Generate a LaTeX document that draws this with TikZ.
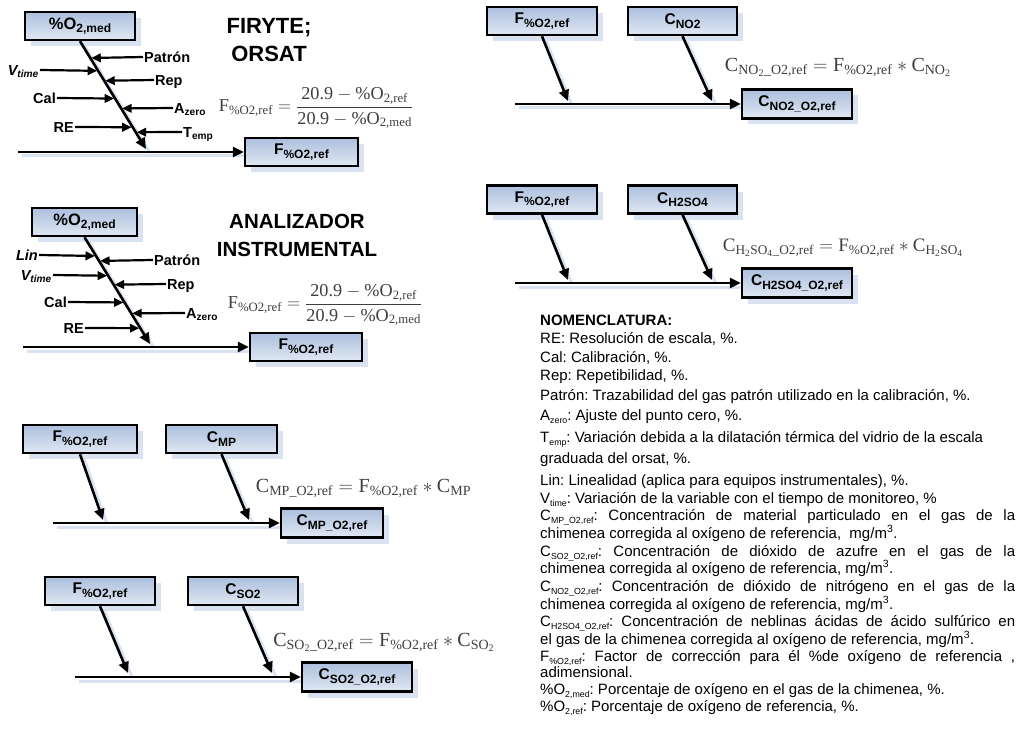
\documentclass[tikz,border=0pt]{standalone}
\usepackage{fix-cm}
\usepackage{amsmath}
\usepackage[no-math]{fontspec}
\setmainfont{Liberation Sans}
\newfontfamily\eqfont{Liberation Serif}
\usetikzlibrary{arrows.meta,calc,shadows}
\definecolor{boxA}{RGB}{172,191,221}
\definecolor{boxB}{RGB}{224,232,243}
\definecolor{shd}{RGB}{216,226,240}
\definecolor{eqc}{RGB}{62,62,62}
\frenchspacing
\newcommand\mylo[1]{\textsubscript{#1}}
\newcommand\subx[2]{\raisebox{-0.22em}{\fontsize{#1}{#1}\selectfont #2}}
\newcommand\bsub[1]{\subx{12}{#1}}
\newcommand\nsub[1]{\subx{8.8}{#1}}
\newcommand\ee[1]{\text{\eqfont #1}}
\pgfdeclarelayer{bg}
\pgfsetlayers{bg,main}
\tikzset{
  bx/.style={draw=black, line width=2.4pt, top color=boxA, bottom color=boxB, minimum height=28pt, inner sep=0pt,
    font=\bfseries\fontsize{15.5}{18}\selectfont,
    drop shadow={shadow xshift=6pt, shadow yshift=-6pt, fill=shd, draw=none, opacity=1}},
  lab/.style={font=\bfseries\fontsize{14.5}{17}\selectfont, inner sep=1pt, text height=10.5pt, text depth=0pt},
  arr/.style={line width=2.6pt, -{Triangle[length=11pt,width=10pt]}},
  sarr/.style={line width=2.2pt, -{Triangle[length=9.5pt,width=8.5pt]}, shorten >=1pt},
  lsh/.style={line width=3pt, draw=shd, transform canvas={shift={(4pt,-4pt)}}},
  eq/.style={text=eqc, inner sep=0pt, font=\fontsize{20}{22}\selectfont},
  eqf/.style={text=eqc, inner sep=0pt, font=\fontsize{18.2}{22}\selectfont},
  nom/.style={anchor=base west, inner sep=0pt, font=\fontsize{15}{18}\selectfont},
  ttl/.style={align=center, font=\bfseries\fontsize{20.5}{28}\selectfont, inner sep=0pt}
}
\begin{document}
\begin{tikzpicture}[x=1pt,y=-1pt]
\useasboundingbox (0,0) rectangle (1019,730);

% ---------- Fishbone 1 ----------
\node[bx, minimum width=110pt, font=\bfseries\fontsize{16.5}{18}\selectfont] (m1) at (80,26) {\%O\bsub{2,med}};
\node[bx, minimum width=113pt] (f1) at (301.5,152) {F\bsub{\%O2,ref}};
\coordinate (h1) at (18,152);
\coordinate (d1) at (146,149);
\begin{pgfonlayer}{bg}
\draw[lsh] (h1) -- (f1.west);
\draw[lsh] (m1.south) -- (d1);
\end{pgfonlayer}
\draw[arr] (h1) -- (f1.west);
\draw[arr] (m1.south) -- (d1);
\node[ttl, font=\bfseries\fontsize{22}{28}\selectfont] (t1) at (269,40) {FIRYTE;\\ORSAT};
\node[lab,anchor=east] (vt1) at (40,70) {\textit{V\mylo{time}}};
\node[lab,anchor=east] (ca1) at (57,98) {Cal};
\node[lab,anchor=east] (re1) at (75,127) {RE};
\node[lab,anchor=west] (pa1) at (143,57) {Patrón};
\node[lab,anchor=west] (rp1) at (154,80) {Rep};
\node[lab,anchor=west] (az1) at (173,108) {A\mylo{zero}};
\node[lab,anchor=west] (te1) at (182,132) {T\mylo{emp}};
\coordinate (qv1) at ($(m1.south)!{(70-40)/109}!(d1)$);
\coordinate (qc1) at ($(m1.south)!{(98-40)/109}!(d1)$);
\coordinate (qr1) at ($(m1.south)!{(127-40)/109}!(d1)$);
\coordinate (qp1) at ($(m1.south)!{(57-40)/109}!(d1)$);
\coordinate (qe1) at ($(m1.south)!{(80-40)/109}!(d1)$);
\coordinate (qa1) at ($(m1.south)!{(108-40)/109}!(d1)$);
\coordinate (qt1) at ($(m1.south)!{(132-40)/109}!(d1)$);
\draw[sarr] (vt1.east) -- (qv1);
\draw[sarr] (ca1.east) -- (qc1);
\draw[sarr] (re1.east) -- (qr1);
\draw[sarr] (pa1.west) -- (qp1);
\draw[sarr] (rp1.west) -- (qe1);
\draw[sarr] (az1.west) -- (qa1);
\draw[sarr] (te1.west) -- (qt1);
\node[eqf] (eq1) at (316,108) {$\ee{F}_{\ee{\%O2,ref}}=\dfrac{\ee{20.9}-\ee{\%O}_{\ee{2,ref}}}{\ee{20.9}-\ee{\%O}_{\ee{2,med}}}$};

% ---------- Fishbone 2 ----------
\node[bx, minimum width=105pt, font=\bfseries\fontsize{16.5}{18}\selectfont] (m2) at (84.5,222) {\%O\bsub{2,med}};
\node[bx, minimum width=112pt] (f2) at (306,347) {F\bsub{\%O2,ref}};
\coordinate (h2) at (23,347);
\coordinate (d2) at (150,344);
\begin{pgfonlayer}{bg}
\draw[lsh] (h2) -- (f2.west);
\draw[lsh] (m2.south) -- (d2);
\end{pgfonlayer}
\draw[arr] (h2) -- (f2.west);
\draw[arr] (m2.south) -- (d2);
\node[ttl] (t2) at (297,235) {ANALIZADOR\\INSTRUMENTAL};
\node[lab,anchor=east] (li2) at (39,255) {\textit{Lin}};
\node[lab,anchor=east] (vt2) at (53,275) {\textit{V\mylo{time}}};
\node[lab,anchor=east] (ca2) at (68,302) {Cal};
\node[lab,anchor=east] (re2) at (85,328) {RE};
\node[lab,anchor=west] (pa2) at (153,260) {Patrón};
\node[lab,anchor=west] (rp2) at (166,284) {Rep};
\node[lab,anchor=west] (az2) at (185,313) {A\mylo{zero}};
\coordinate (ql2) at ($(m2.south)!{(255-236)/108}!(d2)$);
\coordinate (qv2) at ($(m2.south)!{(275-236)/108}!(d2)$);
\coordinate (qc2) at ($(m2.south)!{(302-236)/108}!(d2)$);
\coordinate (qr2) at ($(m2.south)!{(328-236)/108}!(d2)$);
\coordinate (qp2) at ($(m2.south)!{(260-236)/108}!(d2)$);
\coordinate (qe2) at ($(m2.south)!{(284-236)/108}!(d2)$);
\coordinate (qa2) at ($(m2.south)!{(313-236)/108}!(d2)$);
\draw[sarr] (li2.east) -- (ql2);
\draw[sarr] (vt2.east) -- (qv2);
\draw[sarr] (ca2.east) -- (qc2);
\draw[sarr] (re2.east) -- (qr2);
\draw[sarr] (pa2.west) -- (qp2);
\draw[sarr] (rp2.west) -- (qe2);
\draw[sarr] (az2.west) -- (qa2);
\node[eqf] (eq2) at (325,305) {$\ee{F}_{\ee{\%O2,ref}}=\dfrac{\ee{20.9}-\ee{\%O}_{\ee{2,ref}}}{\ee{20.9}-\ee{\%O}_{\ee{2,med}}}$};

% ---------- Group 3 (MP) ----------
\node[bx, minimum width=114pt] (F3) at (80,439) {F\bsub{\%O2,ref}};
\node[bx, minimum width=111pt] (C3) at (221.5,439) {C\bsub{MP}};
\node[bx, minimum width=102pt, minimum height=29pt] (R3) at (332,523) {C\bsub{MP\_O2,ref}};
\coordinate (s3) at (53,523);
\coordinate (a3) at (103,520);
\coordinate (b3) at (249,520);
\begin{pgfonlayer}{bg}
\draw[lsh] (s3) -- (R3.west);
\draw[lsh] (F3.south) -- (a3);
\draw[lsh] (C3.south) -- (b3);
\end{pgfonlayer}
\draw[arr] (s3) -- (R3.west);
\draw[arr] (F3.south) -- (a3);
\draw[arr] (C3.south) -- (b3);
\node[eq] (eq3) at (363.5,488) {$\ee{C}_{\ee{MP\_O2,ref}}=\ee{F}_{\ee{\%O2,ref}}*\ee{C}_{\ee{MP}}$};

% ---------- Group 4 (SO2) ----------
\node[bx, minimum width=110pt] (F4) at (100,591) {F\bsub{\%O2,ref}};
\node[bx, minimum width=110pt] (C4) at (243,591) {C\bsub{SO2}};
\node[bx, minimum width=110pt, minimum height=29pt] (R4) at (357,677) {C\bsub{SO2\_O2,ref}};
\coordinate (s4) at (75,677);
\coordinate (a4) at (128,673);
\coordinate (b4) at (272,673);
\begin{pgfonlayer}{bg}
\draw[lsh] (s4) -- (R4.west);
\draw[lsh] (F4.south) -- (a4);
\draw[lsh] (C4.south) -- (b4);
\end{pgfonlayer}
\draw[arr] (s4) -- (R4.west);
\draw[arr] (F4.south) -- (a4);
\draw[arr] (C4.south) -- (b4);
\node[eq] (eq4) at (384,642) {$\ee{C}_{\ee{SO}_{\ee{2}}\ee{\_O2,ref}}=\ee{F}_{\ee{\%O2,ref}}*\ee{C}_{\ee{SO}_{\ee{2}}}$};

% ---------- Group 5 (NO2) ----------
\node[bx, minimum width=110pt] (F5) at (542,21) {F\bsub{\%O2,ref}};
\node[bx, minimum width=109pt] (C5) at (682.5,21) {C\bsub{NO2}};
\node[bx, minimum width=110pt, minimum height=29pt] (R5) at (797,104) {C\bsub{NO2\_O2,ref}};
\coordinate (s5) at (515,104);
\coordinate (a5) at (568,101);
\coordinate (b5) at (712,101);
\begin{pgfonlayer}{bg}
\draw[lsh] (s5) -- (R5.west);
\draw[lsh] (F5.south) -- (a5);
\draw[lsh] (C5.south) -- (b5);
\end{pgfonlayer}
\draw[arr] (s5) -- (R5.west);
\draw[arr] (F5.south) -- (a5);
\draw[arr] (C5.south) -- (b5);
\node[eq] (eq5) at (838,67) {$\ee{C}_{\ee{NO}_{\ee{2}}\ee{\_O2,ref}}=\ee{F}_{\ee{\%O2,ref}}*\ee{C}_{\ee{NO}_{\ee{2}}}$};

% ---------- Group 6 (H2SO4) ----------
\node[bx, minimum width=110pt] (F6) at (542,199.5) {F\bsub{\%O2,ref}};
\node[bx, minimum width=109pt] (C6) at (682.5,199.5) {C\bsub{H2SO4}};
\node[bx, minimum width=110pt, minimum height=29pt] (R6) at (797,283) {C\bsub{H2SO4\_O2,ref}};
\coordinate (s6) at (515,283);
\coordinate (a6) at (568,280);
\coordinate (b6) at (712,280);
\begin{pgfonlayer}{bg}
\draw[lsh] (s6) -- (R6.west);
\draw[lsh] (F6.south) -- (a6);
\draw[lsh] (C6.south) -- (b6);
\end{pgfonlayer}
\draw[arr] (s6) -- (R6.west);
\draw[arr] (F6.south) -- (a6);
\draw[arr] (C6.south) -- (b6);
\node[eq, font=\fontsize{19}{22}\selectfont] (eq6) at (843,248) {$\ee{C}_{\ee{H}_{\ee{2}}\ee{SO}_{\ee{4}}\ee{\_O2,ref}}=\ee{F}_{\ee{\%O2,ref}}*\ee{C}_{\ee{H}_{\ee{2}}\ee{SO}_{\ee{4}}}$};

% ---------- Nomenclature ----------
\node[nom, font=\bfseries\fontsize{15}{18}\selectfont] (n0) at (540,325) {NOMENCLATURA:};
\node[nom] (n1) at (540,343) {RE: Resolución de escala, \%.};
\node[nom] (n2) at (540,362) {Cal: Calibración, \%.};
\node[nom] (n3) at (540,380) {Rep: Repetibilidad, \%.};
\node[nom] (n4) at (540,400) {Patrón: Trazabilidad del gas patrón utilizado en la calibración, \%.};
\node[nom] (n5) at (540,420) {A\nsub{zero}: Ajuste del punto cero, \%.};
\node[nom] (n6) at (540,442) {T\nsub{emp}: Variación debida a la dilatación térmica del vidrio de la escala};
\node[nom] (n7) at (540,463) {graduada del orsat, \%.};
\node[nom] (n8) at (540,485) {Lin: Linealidad (aplica para equipos instrumentales), \%.};
\node[nom] (n9) at (540,503) {V\nsub{time}: Variación de la variable con el tiempo de monitoreo, \%};
\node[nom] (n10) at (540,520) {\makebox[475pt][s]{C\nsub{MP\_O2,ref}: Concentración de material particulado en el gas de la}};
\node[nom] (n11) at (540,538) {chimenea corregida al oxígeno de referencia,\ \ mg/m\textsuperscript{3}.};
\node[nom] (n12) at (540,556) {\makebox[475pt][s]{C\nsub{SO2\_O2,ref}: Concentración de dióxido de azufre en el gas de la}};
\node[nom] (n13) at (540,573) {chimenea corregida al oxígeno de referencia, mg/m\textsuperscript{3}.};
\node[nom] (n14) at (540,591) {\makebox[475pt][s]{C\nsub{NO2\_O2,ref}: Concentración de dióxido de nitrógeno en el gas de la}};
\node[nom] (n15) at (540,609) {chimenea corregida al oxígeno de referencia, mg/m\textsuperscript{3}.};
\node[nom] (n16) at (540,626) {\makebox[475pt][s]{C\nsub{H2SO4\_O2,ref}: Concentración de neblinas ácidas de ácido sulfúrico en}};
\node[nom] (n17) at (540,644) {el gas de la chimenea corregida al oxígeno de referencia, mg/m\textsuperscript{3}.};
\node[nom] (n18) at (540,661) {\makebox[475pt][s]{F\nsub{\%O2,ref}: Factor de corrección para él \%de oxígeno de referencia ,}};
\node[nom] (n19) at (540,677) {adimensional.};
\node[nom] (n20) at (540,694) {\%O\nsub{2,med}: Porcentaje de oxígeno en el gas de la chimenea, \%.};
\node[nom] (n21) at (540,711) {\%O\nsub{2,ref}: Porcentaje de oxígeno de referencia, \%.};
\end{tikzpicture}
\end{document}
